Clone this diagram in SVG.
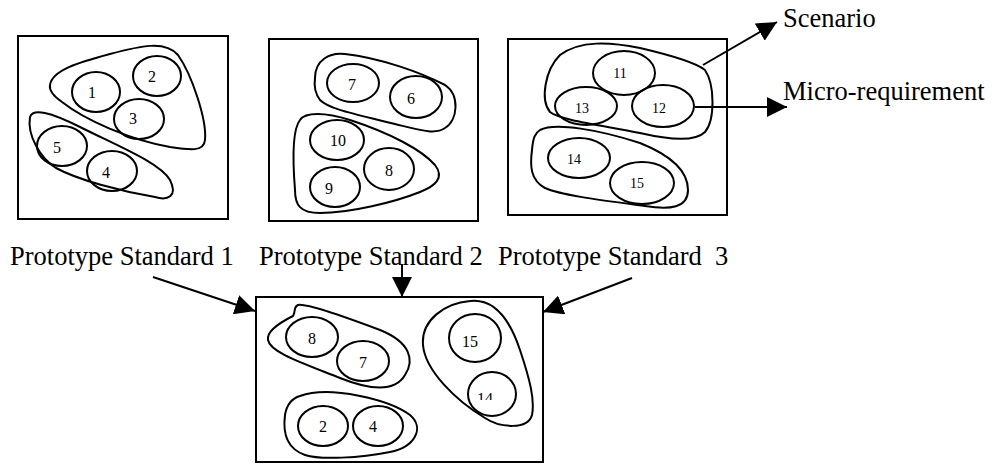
<svg xmlns="http://www.w3.org/2000/svg" width="995" height="464" viewBox="0 0 995 464">
<style>
.box{fill:none;stroke:#000;stroke-width:2}
.blob{fill:none;stroke:#000;stroke-width:2}
.el{fill:none;stroke:#000;stroke-width:2}
.n{font-family:"Liberation Serif","Times New Roman",serif;font-size:16px;fill:#000;text-anchor:middle}
.s{font-size:14px}
.lbl{font-family:"Liberation Serif","Times New Roman",serif;font-size:26.5px;fill:#000;white-space:pre}
.ln{fill:none;stroke:#000;stroke-width:2}
</style>
<defs>
<marker id="ah" viewBox="0 0 20 20" refX="20" refY="10" markerWidth="20" markerHeight="20" markerUnits="userSpaceOnUse" orient="auto">
<path d="M0,0 L20,10 L0,20 Z" fill="#000"/>
</marker>
<clipPath id="clip14"><rect x="460" y="380" width="60" height="20"/></clipPath>
</defs>

<g id="standard1">
<rect class="box" x="18" y="36" width="210" height="183"/>
<path class="blob" d="M50,85 C52,70 80,62 110,54 C140,46 165,40 178,55 C192,75 207,120 205,140 C204,152 190,150 170,147 C130,140 85,120 62,102 C52,95 49,90 50,85 Z"/>
<path class="blob" d="M30,117 C33,108 50,112 80,127 C120,147 160,163 170,180 C178,196 168,201 155,197 C120,191 78,180 56,168 C40,158 27,135 30,117 Z"/>
<g id="n1"><ellipse class="el" cx="96" cy="92" rx="24" ry="20"/><text class="n" x="92" y="98">1</text></g>
<g id="n2"><ellipse class="el" cx="157" cy="76" rx="24" ry="20"/><text class="n" x="152" y="82">2</text></g>
<g id="n3"><ellipse class="el" cx="139" cy="119" rx="25" ry="20"/><text class="n" x="133" y="124">3</text></g>
<g id="n5"><ellipse class="el" cx="62" cy="146" rx="25" ry="20"/><text class="n" x="57" y="153">5</text></g>
<g id="n4"><ellipse class="el" cx="112" cy="171" rx="25" ry="20"/><text class="n" x="106" y="178">4</text></g>
</g>

<g id="standard2">
<rect class="box" x="269" y="39" width="209" height="182"/>
<path class="blob" d="M315,78 C315,60 330,52 345,54 C380,58 420,72 445,85 C460,95 458,120 445,128 C435,135 420,130 395,124 C360,115 330,110 320,100 C314,92 314,85 315,78 Z"/>
<path class="blob" d="M300,120 C305,112 325,112 350,120 C390,133 422,150 435,165 C445,178 435,186 420,192 C395,202 350,213 320,213 C300,213 295,205 295,190 C293,165 292,130 300,120 Z"/>
<g id="n7"><ellipse class="el" cx="353" cy="83" rx="26" ry="19"/><text class="n" x="352" y="90">7</text></g>
<g id="n6"><ellipse class="el" cx="416" cy="97" rx="26" ry="21"/><text class="n" x="411" y="104">6</text></g>
<g id="n10"><ellipse class="el" cx="337" cy="140" rx="27" ry="20"/><text class="n" x="338" y="146">10</text></g>
<g id="n8"><ellipse class="el" cx="389" cy="169" rx="25" ry="21"/><text class="n" x="389" y="176">8</text></g>
<g id="n9"><ellipse class="el" cx="335" cy="187" rx="25" ry="20"/><text class="n" x="329" y="194">9</text></g>
</g>

<g id="standard3">
<rect class="box" x="508" y="39" width="219" height="176"/>
<path class="blob" d="M560,55 C580,40 610,42 640,48 C670,55 695,62 705,70 C715,85 715,120 705,132 C695,142 670,140 640,133 C600,125 560,120 550,112 C540,100 545,70 560,55 Z"/>
<path class="blob" d="M540,130 C555,122 600,130 640,143 C670,155 688,170 688,190 C688,208 670,210 645,206 C600,200 560,195 545,188 C530,180 530,165 532,150 C533,138 535,133 540,130 Z"/>
<g id="n11"><ellipse class="el" cx="624" cy="73" rx="31" ry="22"/><text class="n s" x="620" y="78">11</text></g>
<g id="n13"><ellipse class="el" cx="586" cy="106" rx="31" ry="19"/><text class="n s" x="582" y="113">13</text></g>
<g id="n12"><ellipse class="el" cx="663" cy="106" rx="31" ry="21"/><text class="n s" x="659" y="113">12</text></g>
<g id="n14"><ellipse class="el" cx="579" cy="158" rx="31" ry="20"/><text class="n s" x="574" y="164">14</text></g>
<g id="n15"><ellipse class="el" cx="642" cy="183" rx="32" ry="21"/><text class="n s" x="637" y="188">15</text></g>
</g>

<g id="merged">
<rect class="box" x="256" y="297" width="287" height="165"/>
<path class="blob" d="M298,305 C305,303 340,315 380,330 C410,342 415,360 405,375 C395,392 370,390 340,378 C300,362 270,352 268,340 C266,330 285,320 293,316 C296,312 293,307 298,305 Z"/>
<path class="blob" d="M300,396 C330,385 390,400 410,415 C425,428 415,447 390,452 C360,458 320,460 305,455 C285,448 283,430 285,415 C287,403 293,398 300,396 Z"/>
<path class="blob" d="M470,301 C495,298 510,320 520,350 C530,380 535,400 532,415 C528,430 500,428 485,418 C455,400 425,370 423,345 C421,320 445,303 470,301 Z"/>
<g id="m8"><ellipse class="el" cx="312" cy="337" rx="26" ry="20"/><text class="n" x="312" y="344">8</text></g>
<g id="m7"><ellipse class="el" cx="363" cy="361" rx="26" ry="20"/><text class="n" x="363" y="368">7</text></g>
<g id="m15"><ellipse class="el" cx="475" cy="338" rx="26" ry="24"/><text class="n" x="470" y="347">15</text></g>
<g id="m14"><ellipse class="el" cx="492" cy="394" rx="24" ry="22"/><text class="n" x="485" y="404" clip-path="url(#clip14)">14</text></g>
<g id="m2"><ellipse class="el" cx="323" cy="426" rx="25" ry="20"/><text class="n" x="323" y="432">2</text></g>
<g id="m4"><ellipse class="el" cx="378" cy="426" rx="25" ry="20"/><text class="n" x="373" y="432">4</text></g>
</g>

<g id="labels">
<text class="lbl" x="10" y="265">Prototype Standard 1</text>
<text class="lbl" x="259" y="265">Prototype Standard 2</text>
<text class="lbl" x="498" y="265" xml:space="preserve">Prototype Standard  3</text>
<text class="lbl" x="783" y="27">Scenario</text>
<text class="lbl" x="783" y="100">Micro-requirement</text>
</g>

<g id="connectors">
<line class="ln" x1="153" y1="277" x2="255" y2="311" marker-end="url(#ah)"/>
<line class="ln" x1="402" y1="264" x2="402" y2="297" marker-end="url(#ah)"/>
<line class="ln" x1="632" y1="278" x2="543" y2="312" marker-end="url(#ah)"/>
<line class="ln" x1="703" y1="65" x2="777" y2="22" marker-end="url(#ah)"/>
<line class="ln" x1="695" y1="107" x2="787" y2="107" marker-end="url(#ah)"/>
</g>
</svg>
